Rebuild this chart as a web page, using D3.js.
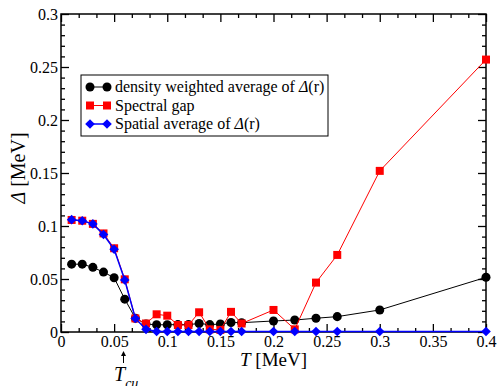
<!DOCTYPE html>
<html>
<head>
<meta charset="utf-8">
<script src="https://cdn.jsdelivr.net/npm/d3@7"></script>
<style>
  body { margin: 0; background: #fff; }
</style>
</head>
<body>
<svg id="chart" width="497" height="386"></svg>
<script>
'use strict';

/* Data */

var temps = [0.01, 0.02, 0.03, 0.04, 0.05, 0.06, 0.07, 0.08, 0.09, 0.10, 0.11, 0.12,
             0.13, 0.14, 0.15, 0.16, 0.17, 0.20, 0.22, 0.24, 0.26, 0.30, 0.40];

var densityAvg = [0.064, 0.064, 0.061, 0.0565, 0.0512, 0.031, 0.013, 0.0075, 0.0068, 0.0068, 0.007, 0.007,
                  0.008, 0.007, 0.0075, 0.009, 0.0088, 0.0104, 0.0113, 0.013, 0.0145, 0.0208, 0.0516];

var spectralGap = [0.1057, 0.105, 0.102, 0.093, 0.079, 0.0497, 0.0128, 0.008, 0.0167, 0.0154, 0.0066, 0.0066,
                   0.0186, 0.0025, 0.002, 0.019, 0.008, 0.0208, 0.0025, 0.0466, 0.0727, 0.152, 0.257];

var spatialAvg = [0.106, 0.105, 0.102, 0.092, 0.078, 0.049, 0.0128, 0.0025, 0.0005, 0.0005, 0.0005, 0.0005,
                  0.0005, 0.0005, 0.0005, 0.0005, 0.0005, 0.0005, 0.0005, 0.0005, 0.0005, 0.0005, 0.0005];

var xTicks = [0, 0.05, 0.1, 0.15, 0.2, 0.25, 0.3, 0.35, 0.4];
var yTicks = [0, 0.05, 0.1, 0.15, 0.2, 0.25, 0.3];

var seriesNames = ['density weighted average of ', 'Spectral gap', 'Spatial average of '];

// attribute form falls back to sans here, inline style works
var FONT = '"Liberation Serif", "Times New Roman", serif';

var svg = d3.select('#chart');

var x = d3.scaleLinear().domain([0, 0.4]).range([61, 486]),
    y = d3.scaleLinear().domain([0, 0.3]).range([332, 14]);

var fmt = function (v) { return String(+v.toFixed(2)); };

/* minor ticks: x in thirds of 0.05, y every 0.01 */
var xMinor = d3.range(1, 24).filter(function (i) { return i % 3; })
      .map(function (i) { return i * 0.05 / 3; }),
    yMinor = d3.range(1, 30).filter(function (i) { return i % 5; })
      .map(function (i) { return i * 0.01; });

function axisStyle(g) {
  g.attr('font-size', null).attr('font-family', null);
  g.selectAll('path').remove();
  g.selectAll('line').attr('stroke', '#000').attr('stroke-width', 1.3);
  g.selectAll('text').attr('fill', '#000')
    .style('font-family', FONT).style('font-size', '16px');
}

svg.append('g').attr('transform', 'translate(0,332)')
  .call(d3.axisBottom(x).tickValues(xTicks).tickSize(-8).tickPadding(4).tickFormat(fmt))
  .call(axisStyle);
svg.append('g').attr('transform', 'translate(0,332)')
  .call(d3.axisBottom(x).tickValues(xMinor).tickSize(-4).tickFormat(''))
  .call(axisStyle);
svg.append('g').attr('transform', 'translate(0,14)')
  .call(d3.axisTop(x).tickValues(xTicks).tickSize(-8).tickFormat(''))
  .call(axisStyle);
svg.append('g').attr('transform', 'translate(0,14)')
  .call(d3.axisTop(x).tickValues(xMinor).tickSize(-4).tickFormat(''))
  .call(axisStyle);

svg.append('g').attr('transform', 'translate(61,0)')
  .call(d3.axisLeft(y).tickValues(yTicks).tickSize(-8).tickPadding(3).tickFormat(fmt))
  .call(axisStyle);
svg.append('g').attr('transform', 'translate(61,0)')
  .call(d3.axisLeft(y).tickValues(yMinor).tickSize(-4).tickFormat(''))
  .call(axisStyle);
svg.append('g').attr('transform', 'translate(486,0)')
  .call(d3.axisRight(y).tickValues(yTicks).tickSize(-8).tickFormat(''))
  .call(axisStyle);
svg.append('g').attr('transform', 'translate(486,0)')
  .call(d3.axisRight(y).tickValues(yMinor).tickSize(-4).tickFormat(''))
  .call(axisStyle);

/* frame */
svg.append('rect')
  .attr('x', x(0)).attr('y', y(0.3))
  .attr('width', x(0.4) - x(0)).attr('height', y(0) - y(0.3))
  .attr('fill', 'none').attr('stroke', '#000').attr('stroke-width', 1.5);

/* markers */
var shapes = {
  circle: function () { return d3.symbol(d3.symbolCircle, 64)(); },
  square: function () { return 'M-4,-4H4V4H-4Z'; },
  diamond: function () { return 'M0,-4.8L4.8,0L0,4.8L-4.8,0Z'; }
};

var series = [
  { name: seriesNames[0], values: densityAvg, color: '#000000', shape: 'circle', width: 1 },
  { name: seriesNames[1], values: spectralGap, color: '#ff0000', shape: 'square', width: 1 },
  { name: seriesNames[2], values: spatialAvg, color: '#0000ff', shape: 'diamond', width: 1.5 }
];

var line = d3.line()
  .x(function (d) { return x(d[0]); })
  .y(function (d) { return y(d[1]); });

series.forEach(function (s) {
  var pts = temps.map(function (t, i) { return [t, s.values[i]]; });
  var g = svg.append('g');
  g.append('path')
    .attr('d', line(pts))
    .attr('fill', 'none')
    .attr('stroke', s.color)
    .attr('stroke-width', s.width);
  g.selectAll('path.mk')
    .data(pts)
    .enter().append('path')
    .attr('class', 'mk')
    .attr('d', shapes[s.shape]())
    .attr('fill', s.color)
    .attr('transform', function (d) { return 'translate(' + x(d[0]) + ',' + y(d[1]) + ')'; });
});

/* legend */
var legend = svg.append('g');
legend.append('rect')
  .attr('x', 81).attr('y', 75).attr('width', 247).attr('height', 61)
  .attr('fill', '#fff').attr('stroke', '#000').attr('stroke-width', 1);

series.forEach(function (s, i) {
  var ly = 87 + i * 18.5;
  legend.append('line')
    .attr('x1', 90).attr('x2', 107).attr('y1', ly).attr('y2', ly)
    .attr('stroke', s.color).attr('stroke-width', s.width);
  [90, 107].forEach(function (lx) {
    legend.append('path')
      .attr('d', shapes[s.shape]())
      .attr('fill', s.color)
      .attr('transform', 'translate(' + lx + ',' + ly + ')');
  });
  var t = legend.append('text')
    .attr('x', 115).attr('y', ly + 5)
    .attr('fill', '#000')
    .style('font-family', FONT).style('font-size', '16px')
    .text(s.name);
  if (i !== 1) {
    t.append('tspan').style('font-style', 'italic').text('Δ');
    t.append('tspan').text('(r)');
  }
});

/* axis titles */
var xt = svg.append('text')
  .attr('x', 273.5).attr('y', 366)
  .attr('text-anchor', 'middle')
  .style('font-family', FONT).style('font-size', '19px');
xt.append('tspan').style('font-style', 'italic').text('T');
xt.append('tspan').text(' [MeV]');

var yt = svg.append('text')
  .attr('transform', 'translate(25,168) rotate(-90)')
  .attr('text-anchor', 'middle')
  .style('font-family', FONT).style('font-size', '20px');
yt.append('tspan').style('font-style', 'italic').text('Δ');
yt.append('tspan').text(' [MeV]');

/* T_cu marker below the axis: small arrow + label */
var ax = 123.5;
svg.append('line')
  .attr('x1', ax).attr('x2', ax).attr('y1', 363).attr('y2', 352)
  .attr('stroke', '#000').attr('stroke-width', 1);
svg.append('path')
  .attr('d', 'M' + ax + ',351L' + (ax - 2.5) + ',356L' + (ax + 2.5) + ',356Z')
  .attr('fill', '#000');
var tc = svg.append('text')
  .attr('x', 114).attr('y', 381)
  .style('font-family', FONT).style('font-size', '20px')
  .style('font-style', 'italic');
tc.append('tspan').text('T');
tc.append('tspan').attr('dy', 7).style('font-size', '14px').text('cu');
</script>
</body>
</html>
